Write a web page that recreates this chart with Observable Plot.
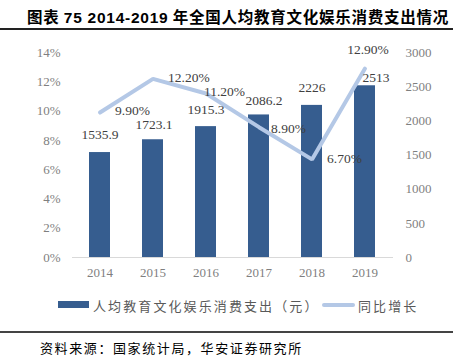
<!DOCTYPE html>
<html><head><meta charset="utf-8">
<script src="https://cdn.jsdelivr.net/npm/d3@7"></script>
<script src="https://cdn.jsdelivr.net/npm/@observablehq/plot@0.6"></script>
<style>
body{margin:0;background:#fff;width:453px;height:362px;position:relative;overflow:hidden;font-family:"Noto Sans CJK SC",sans-serif}
#title{position:absolute;left:27px;top:5px;font-size:15.5px;font-weight:bold;color:#000;white-space:nowrap;letter-spacing:0.75px}
#title .n{font-family:"Liberation Sans",Arial,sans-serif}
.hr{position:absolute;left:0;width:453px;background:#222}
#chart{position:absolute;left:0;top:30px}
.leg{position:absolute;top:296px;font-size:13px;color:#595959;white-space:nowrap;letter-spacing:2.1px}
.sw{position:absolute}
#cap{position:absolute;left:40px;top:338px;font-size:13px;color:#000;white-space:nowrap;letter-spacing:1.6px}
</style></head>
<body>
<div id="title">图表 <span class="n">75 2014-2019</span> 年全国人均教育文化娱乐消费支出情况</div>
<div class="hr" style="top:28px;height:1.5px"></div>
<div id="chart"></div>
<div class="sw" style="left:58px;top:301px;width:31px;height:7px;background:#365d8f"></div>
<div class="leg" style="left:93px">人均教育文化娱乐消费支出（元）</div>
<div class="sw" style="left:322px;top:303px;width:33px;height:4px;border-radius:2px;background:#b4c8e6"></div>
<div class="leg" style="left:358px">同比增长</div>
<div class="hr" style="top:331px;height:1.5px;background:#444"></div>
<div id="cap">资料来源：国家统计局，华安证券研究所</div>
<script>
const years = ["2014","2015","2016","2017","2018","2019"];
const spending = [1535.9, 1723.1, 1915.3, 2086.2, 2226, 2513];
const growth = [9.9, 12.2, 11.2, 8.9, 6.7, 12.9];
const growthLabels = ["9.90%","12.20%","11.20%","8.90%","6.70%","12.90%"];
const leftTicks = [0,2,4,6,8,10,12,14];
const rightTicks = [0,500,1000,1500,2000,2500,3000];

const yMax = 3000, pMax = 14;
const toY = p => p * yMax / pMax;
const rows = years.map((y,i)=>({year:y, v:spending[i], g:toY(growth[i]), gl:growthLabels[i], i}));
const serif = "'Liberation Serif','Times New Roman',serif";
const lab = {fill:"#404040", fontSize:13.5, fontFamily:serif};

// value label above a bar, nudged like the source
const barLabel = (i, dx, dy) => Plot.text(rows.filter(d=>d.i===i), {x:"year", y:"v", text:d=>String(d.v), dx, dy, ...lab});
// growth label next to a line vertex
const lineLabel = (i, dx, dy, anchor) => Plot.text(rows.filter(d=>d.i===i), {x:"year", y:"g", text:"gl", textAnchor:anchor, dx, dy, ...lab});

const chart = Plot.plot({
  width:453, height:260,
  marginLeft:72, marginRight:60, marginTop:22, marginBottom:33,
  style:{fontFamily:serif, fontSize:"13px", background:"transparent"},
  x:{domain:years, paddingInner:0.6, paddingOuter:0.3, label:null},
  y:{domain:[0,yMax], label:null},
  marks:[
    Plot.axisY(leftTicks.map(toY), {anchor:"left", tickSize:0, tickPadding:12, tickFormat:d=>Math.round(d*pMax/yMax)+"%", fill:"#7f7f7f", fontSize:13, fontFamily:serif, label:null}),
    Plot.axisY(rightTicks, {anchor:"right", tickSize:0, tickPadding:12, tickFormat:d=>String(d), fill:"#7f7f7f", fontSize:13, fontFamily:serif, label:null}),
    Plot.axisX({tickSize:0, tickPadding:10, fill:"#7f7f7f", fontSize:13, fontFamily:serif, label:null}),
    Plot.barY(rows, {x:"year", y:"v", fill:"#365d8f"}),
    Plot.ruleY([0], {stroke:"#d9d9d9", strokeWidth:1}),
    Plot.line(rows, {x:"year", y:"g", stroke:"#b4c8e6", strokeWidth:4, strokeLinejoin:"miter"}),
    barLabel(0, 0, -18),
    barLabel(1, 1, -15),
    barLabel(2, 0, -17),
    barLabel(3, 5, -14),
    barLabel(4, 0, -18),
    barLabel(5, 11, -8),
    lineLabel(0, 15, -2, "start"),
    lineLabel(1, 15, -1, "start"),
    lineLabel(2, -2, -2, "start"),
    lineLabel(3, 12, 1, "start"),
    lineLabel(4, 15, -1, "start"),
    lineLabel(5, 3, -19, "middle")
  ]
});
document.getElementById("chart").appendChild(chart);
</script>
</body></html>
